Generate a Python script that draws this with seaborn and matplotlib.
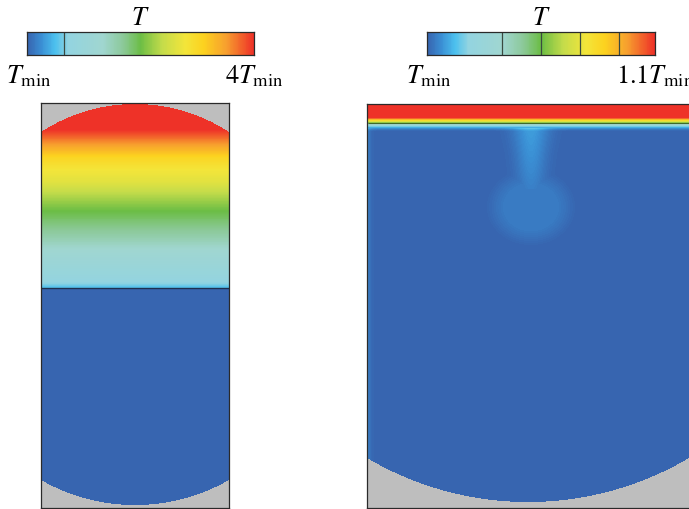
import numpy as np
import matplotlib
matplotlib.use("Agg")
from matplotlib import pyplot as plt
from matplotlib.colors import LinearSegmentedColormap
import seaborn as sns

# colour scale of T, 0 = Tmin, 1 = top of each colour bar
cmap_pos = [0.0, 0.06, 0.12, 0.18, 0.33, 0.42, 0.50, 0.60, 0.70, 0.78, 0.88, 1.0]
cmap_hex = ['#3765b0', '#3a8fd4', '#4cc0ee', '#93d4e0', '#a0d6d0', '#8cc99a',
            '#6bbd45', '#c5dc4a', '#f3e53a', '#fcd21f', '#f7a02e', '#ee3228']

# isotherm lines drawn on the bars
left_bar_lines = [0.163]
right_bar_lines = [0.33, 0.50, 0.67, 0.84]

# left tank (rows/cols in px from the tank's top-left corner)
left_shape = (405, 188)
left_rows = [0, 27, 44, 55, 67, 79, 89, 108, 132, 152, 172, 181, 184]
left_T = [1.0, 1.0, 0.86, 0.76, 0.70, 0.66, 0.60, 0.50, 0.40, 0.30, 0.22, 0.17, 0.13]
left_interface = 185
left_top_cap = (29, 1)      # row at the wall, row at the apex
left_bottom_cap = (377, 402)

# right tank
right_shape = (404, 327)
right_rows = [0, 14, 15, 16, 17, 19, 21, 23, 25, 27]
right_T = [1.0, 1.0, 0.88, 0.78, 0.70, 0.50, 0.25, 0.12, 0.04, 0.0]
right_axis = 161
right_bottom_cap = (354, 398)
plume_col = 164
stem_rows = [24, 50, 85]
stem_T = [0.08, 0.065, 0.04]
stem_sigma = [13, 11, 10]
blob_centre = (164, 103)
blob_radii = (37, 32)
blob_T = 0.035
wall_T = 0.07

cmap = LinearSegmentedColormap.from_list('tcfd', list(zip(cmap_pos, cmap_hex)))


def cap_mask(yy, xx, cx, half, edge, apex, top=True):
    s = abs(edge - apex)
    R = (half ** 2 + s ** 2) / (2 * s)
    if top:
        cy = apex + R
        return (yy < edge) & ((xx - cx) ** 2 + (yy - cy) ** 2 > R ** 2)
    cy = apex - R
    return (yy > edge) & ((xx - cx) ** 2 + (yy - cy) ** 2 > R ** 2)


# left field
ny, nx = left_shape
yy, xx = np.mgrid[0:ny, 0:nx] + 0.5
T_left = np.interp(yy, left_rows, left_T)
T_left[yy > left_interface] = 0.0
mask_left = cap_mask(yy, xx, nx / 2, nx / 2, *left_top_cap, top=True) | \
    cap_mask(yy, xx, nx / 2, nx / 2, *left_bottom_cap, top=False)

# right field
ny2, nx2 = right_shape
yy2, xx2 = np.mgrid[0:ny2, 0:nx2] + 0.5
T_right = np.interp(yy2, right_rows, right_T)
in_stem = (yy2 >= stem_rows[0]) & (yy2 <= stem_rows[-1])
amp = np.interp(yy2, stem_rows, stem_T)
sig = np.interp(yy2, stem_rows, stem_sigma)
T_right += np.where(in_stem, amp * np.exp(-(xx2 - plume_col) ** 2 / (2 * sig ** 2)), 0)
r = np.sqrt(((xx2 - blob_centre[0]) / blob_radii[0]) ** 2 + ((yy2 - blob_centre[1]) / blob_radii[1]) ** 2)
T_right = np.maximum(T_right, blob_T * np.clip((1.25 - r) / 0.55, 0, 1))
T_right += np.where(yy2 > 24, wall_T * np.exp(-xx2 / 2.5), 0)
mask_right = cap_mask(yy2, xx2, right_axis, right_axis, *right_bottom_cap, top=False)

W, H = 689, 509
fig = plt.figure(figsize=(W / 100, H / 100), dpi=100)
plt.rcParams['mathtext.fontset'] = 'stix'


def box(x0, y0, x1, y1):
    return [x0 / W, 1 - y1 / H, (x1 - x0) / W, (y1 - y0) / H]


def style_frame(ax):
    ax.set_xticks([])
    ax.set_yticks([])
    for sp in ax.spines.values():
        sp.set_visible(True)
        sp.set_color('#2a2a2a')
        sp.set_linewidth(0.9)


ax1 = fig.add_axes(box(41, 103, 229, 508))
ax1.set_facecolor('#bebebe')
sns.heatmap(T_left, mask=mask_left, cmap=cmap, vmin=0, vmax=1, cbar=False,
            xticklabels=False, yticklabels=False, ax=ax1)
ax1.axhline(left_interface, color='#1e3050', lw=1.0)
style_frame(ax1)

ax2 = fig.add_axes(box(367, 104, 694, 508))
ax2.set_facecolor('#bebebe')
sns.heatmap(T_right, mask=mask_right, cmap=cmap, vmin=0, vmax=1, cbar=False,
            xticklabels=False, yticklabels=False, ax=ax2)
ax2.contour(xx2, yy2, T_right, levels=[0.5], colors='#3f6a2a', linewidths=0.8)
style_frame(ax2)

grad = np.linspace(0, 1, 228)[None, :]
for (x0, x1), lines, hi in [((27, 254), left_bar_lines, r'$4T_{\mathrm{min}}$'),
                            ((427, 655), right_bar_lines, r'$1.1T_{\mathrm{min}}$')]:
    cax = fig.add_axes(box(x0, 32, x1, 55))
    sns.heatmap(grad, cmap=cmap, vmin=0, vmax=1, cbar=False,
                xticklabels=False, yticklabels=False, ax=cax)
    for f in lines:
        cax.axvline(f * grad.shape[1], color='#3a4a40', lw=0.9)
    style_frame(cax)
    fig.text((x0 + x1) / 2 / W, 1 - 25 / H, r'$T$', ha='center', va='baseline', fontsize=19)
    fig.text((x0 + 2) / W, 1 - 83 / H, r'$T_{\mathrm{min}}$', ha='center', va='baseline', fontsize=19)
    fig.text(x1 / W, 1 - 83 / H, hi, ha='center', va='baseline', fontsize=19)

fig.savefig('out.png', dpi=100)
